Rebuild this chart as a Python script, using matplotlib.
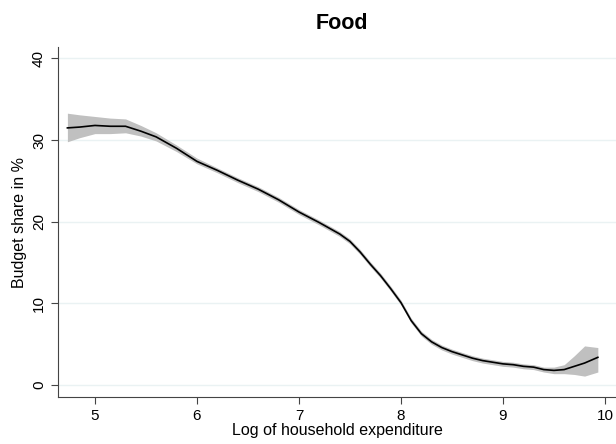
import numpy as np
import matplotlib.pyplot as plt

plt.rcParams['font.family'] = ['Liberation Sans', 'DejaVu Sans']

# local polynomial fit of food budget share on log expenditure
log_exp = [4.73, 4.85, 5.0, 5.15, 5.3, 5.45, 5.6, 5.8, 6.0, 6.2, 6.4, 6.6, 6.8, 7.0,
           7.2, 7.4, 7.5, 7.6, 7.7, 7.8, 7.9, 8.0, 8.1, 8.2, 8.3, 8.4, 8.5, 8.6,
           8.7, 8.8, 8.9, 9.0, 9.1, 9.2, 9.3, 9.4, 9.5, 9.6, 9.7, 9.8, 9.93]
share = [31.5, 31.6, 31.8, 31.7, 31.7, 31.1, 30.4, 29.0, 27.4, 26.3, 25.1, 24.0, 22.7, 21.2,
         19.9, 18.5, 17.6, 16.3, 14.8, 13.4, 11.8, 10.1, 7.9, 6.3, 5.3, 4.6, 4.1, 3.7,
         3.3, 3.0, 2.8, 2.6, 2.5, 2.3, 2.2, 1.9, 1.8, 1.9, 2.3, 2.7, 3.4]
ci_low = [29.8, 30.3, 30.8, 30.8, 30.9, 30.5, 29.9, 28.6, 27.1, 26.0, 24.8, 23.7, 22.4, 20.9,
          19.6, 18.2, 17.3, 16.0, 14.5, 13.1, 11.5, 9.8, 7.6, 6.0, 5.0, 4.3, 3.8, 3.4,
          3.0, 2.7, 2.5, 2.3, 2.2, 2.0, 1.9, 1.6, 1.4, 1.4, 1.3, 1.1, 1.6]
ci_high = [33.3, 33.1, 32.9, 32.7, 32.6, 31.8, 30.9, 29.4, 27.8, 26.6, 25.4, 24.3, 23.0, 21.5,
           20.2, 18.8, 17.9, 16.6, 15.1, 13.7, 12.1, 10.4, 8.2, 6.6, 5.6, 4.9, 4.4, 4.0,
           3.6, 3.3, 3.1, 2.9, 2.8, 2.6, 2.5, 2.2, 2.2, 2.5, 3.6, 4.8, 4.6]

fig = plt.figure(figsize=(6.16, 4.44), dpi=100)
ax = fig.add_axes([0.094, 0.106, 0.906, 0.788])

ax.fill_between(log_exp, ci_low, ci_high, color='#c0c0c0', lw=0)
ax.plot(log_exp, share, color='black', lw=1.2)

ax.set_xlim(4.637, 10.108)
ax.set_ylim(-1.45, 41.4)
ax.set_xticks([5, 6, 7, 8, 9, 10])
ax.set_yticks([0, 10, 20, 30, 40])
ax.grid(axis='y', color='#eaf2f3', lw=1)
ax.set_axisbelow(True)
for s in ['top', 'right']:
    ax.spines[s].set_visible(False)
for s in ['left', 'bottom']:
    ax.spines[s].set_color('#444444')
ax.tick_params(labelsize=11, color='#444444', length=5)
plt.setp(ax.get_yticklabels(), rotation=90, va='center')

ax.set_xlabel('Log of household expenditure', fontsize=11.5, labelpad=0)
ax.set_ylabel('Budget share in %', fontsize=11.5, labelpad=4)
ax.set_title('Food', fontsize=15.5, fontweight='bold', pad=13, x=0.509)

fig.savefig('out.png', dpi=100)
